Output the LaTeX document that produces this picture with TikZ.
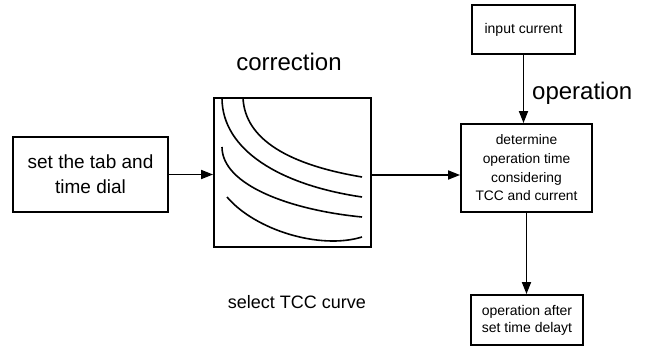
\documentclass[tikz,border=0pt]{standalone}
\usepackage{fontspec}
\setmainfont{Liberation Sans}
\usetikzlibrary{arrows.meta}
\tikzset{
  box/.style={draw, line width=1.9pt, inner sep=0pt, align=center},
  arr/.style={line width=1.8pt, -{Triangle[length=12pt,width=9pt]}},
  curve/.style={line width=1.6pt},
  big/.style={font=\fontsize{24}{28}\selectfont},
}
\begin{document}
\begin{tikzpicture}[x=1pt,y=-1pt]
\useasboundingbox (0,0) rectangle (648,347);
% nodes
\node[box, minimum width=155pt, minimum height=75pt,
      font=\fontsize{19}{25}\selectfont] (left) at (90.5,174.5)
      {set the tab and\\time dial};
\node[box, minimum width=157pt, minimum height=149pt] (mid) at (292.5,172.5) {};
\node[box, minimum width=131pt, minimum height=88pt,
      font=\fontsize{13.8}{18.7}\selectfont] (det) at (526.5,168)
      {determine\\operation time\\considering\\TCC and current};
\node[box, minimum width=103pt, minimum height=49pt,
      font=\fontsize{14}{17}\selectfont] (inp) at (523.5,29.5) {input current};
\node[box, minimum width=112pt, minimum height=50pt,
      font=\fontsize{14}{17}\selectfont] (bot) at (527,320)
      {operation after\\set time delayt};
% labels
\node[big, inner sep=0pt] (corr) at (289,62) {correction};
\node[big, inner sep=0pt, anchor=west] (oper) at (532,93) {operation};
\node[font=\fontsize{18}{22}\selectfont, inner sep=0pt] (sel) at (297,302) {select TCC curve};
% curves inside the correction box
\draw[curve] (243,98) .. controls (245,140) and (290,165) .. (362,177);
\draw[curve] (222,98) .. controls (222,150) and (280,185) .. (362,197);
\draw[curve] (222,147) .. controls (222,185) and (290,210) .. (362,217);
\draw[curve] (227,197) .. controls (255,230) and (320,250) .. (362,237);
% connectors
\coordinate (m) at (371,175);
\draw[arr] (left.east) -- (left.east -| mid.west);
\draw[arr] (m) -- (m -| det.west);
\draw[arr] (inp.south) -- (inp.south |- det.north);
\draw[arr] (det.south) -- (det.south |- bot.north);
\end{tikzpicture}
\end{document}
